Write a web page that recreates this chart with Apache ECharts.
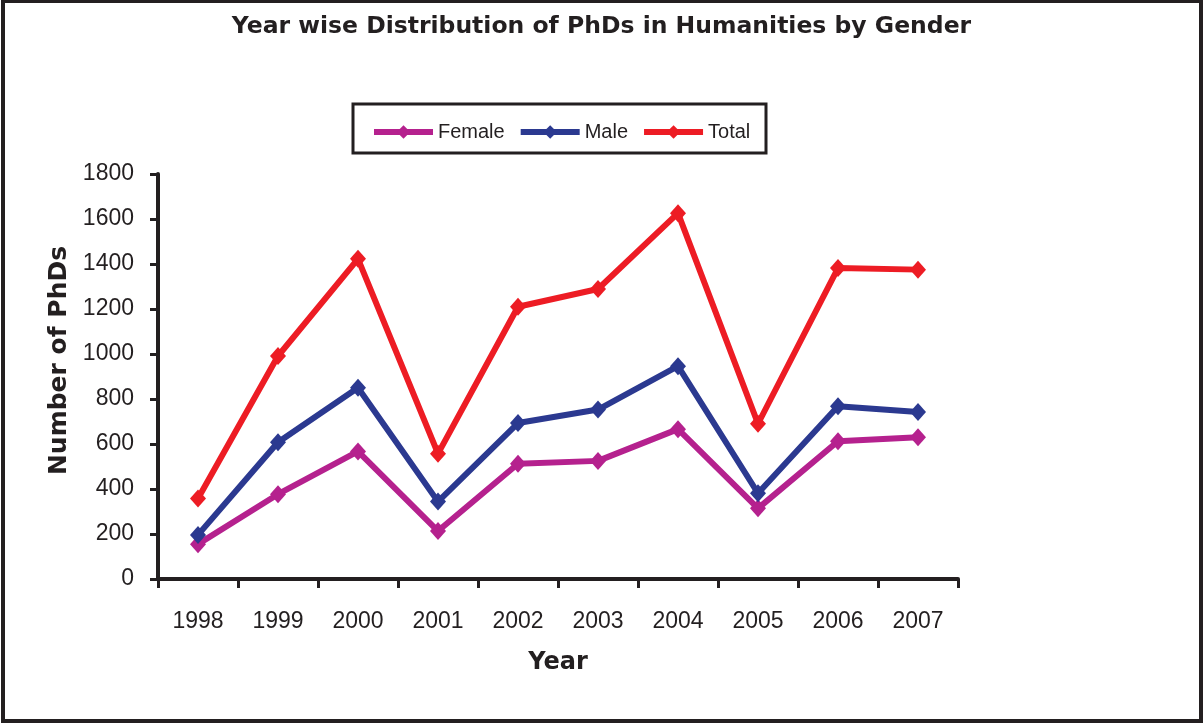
<!DOCTYPE html>
<html>
<head>
<meta charset="utf-8">
<script src="https://cdn.jsdelivr.net/npm/echarts@6/dist/echarts.min.js"></script>
<style>html,body{margin:0;padding:0;background:#fff;}#c{width:1203px;height:723px;}</style>
</head>
<body>
<div id="c"></div>
<script>
var years = ['1998','1999','2000','2001','2002','2003','2004','2005','2006','2007'];
var female = [155, 377, 567, 213, 512, 525, 666, 314, 612, 630];
var male = [196, 608, 850, 344, 693, 753, 946, 381, 768, 742];
var total = [358, 991, 1423, 557, 1210, 1289, 1626, 690, 1382, 1375];
var yTicks = [0, 200, 400, 600, 800, 1000, 1200, 1400, 1600, 1800];

var ink = '#231f20';
var font = "'Liberation Sans', Arial, sans-serif";
var boldFont = "'DejaVu Sans', 'Liberation Sans', sans-serif";
var chart = echarts.init(document.getElementById('c'), null, {renderer: 'canvas'});

function mkSeries(name, data, color) {
  return {
    name: name, type: 'line', data: data,
    symbol: 'diamond', symbolSize: [16, 18],
    lineStyle: {color: color, width: 6},
    itemStyle: {color: color},
    emphasis: {disabled: true},
    animation: false
  };
}

chart.setOption({
  animation: false,
  title: {
    text: 'Year wise Distribution of PhDs in Humanities by Gender',
    left: 'center', top: 10,
    textStyle: {fontFamily: boldFont, fontSize: 23.5, fontWeight: 'bold', color: ink}
  },
  graphic: [
    {type: 'rect', shape: {x: 3, y: 1, width: 1198, height: 720}, style: {fill: 'none', stroke: ink, lineWidth: 4}, silent: true},
    {type: 'rect', shape: {x: 353, y: 104, width: 413, height: 49}, style: {fill: 'none', stroke: ink, lineWidth: 3}, silent: true}
  ],
  legend: {
    left: 366, top: 117,
    itemWidth: 59, itemHeight: 17, itemGap: 13,
    lineStyle: {width: 6},
    textStyle: {fontFamily: font, fontSize: 20, color: ink},
    data: ['Female', 'Male', 'Total']
  },
  grid: {left: 158, right: 245, top: 174, bottom: 144, containLabel: false},
  xAxis: {
    type: 'category', data: years, boundaryGap: true,
    name: 'Year', nameLocation: 'middle', nameGap: 72,
    nameTextStyle: {fontFamily: boldFont, fontSize: 24, fontWeight: 'bold', color: ink},
    axisLine: {lineStyle: {color: ink, width: 4}},
    axisTick: {show: true, length: 9, lineStyle: {color: ink, width: 3}},
    axisLabel: {fontFamily: font, fontSize: 23, color: ink, margin: 31},
    splitLine: {show: false}
  },
  yAxis: {
    type: 'value', min: yTicks[0], max: yTicks[yTicks.length - 1], interval: 200,
    name: 'Number of PhDs', nameLocation: 'middle', nameGap: 86, nameRotate: 90,
    nameTextStyle: {fontFamily: boldFont, fontSize: 25, fontWeight: 'bold', color: ink, padding: [0, 0, 0, 32]},
    axisLine: {show: true, lineStyle: {color: ink, width: 4}},
    axisTick: {show: true, length: 8, lineStyle: {color: ink, width: 3}},
    axisLabel: {fontFamily: font, fontSize: 23, color: ink, margin: 24, formatter: function (v) { return String(v); }},
    splitLine: {show: false}
  },
  series: [
    mkSeries('Female', female, '#B5218E'),
    mkSeries('Male', male, '#2B3990'),
    mkSeries('Total', total, '#ED1C24')
  ]
});
</script>
</body>
</html>
